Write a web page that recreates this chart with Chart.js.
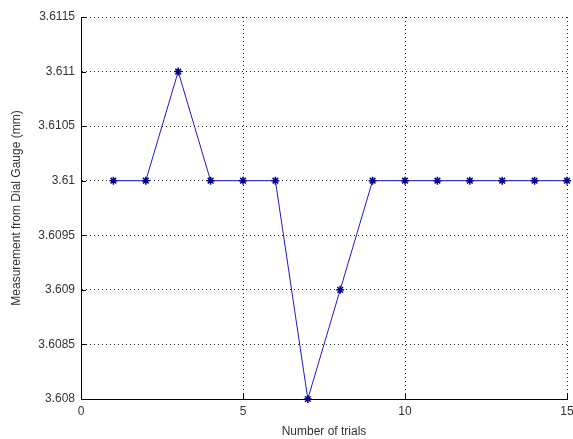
<!DOCTYPE html>
<html>
<head>
<meta charset="utf-8">
<script src="https://cdn.jsdelivr.net/npm/chart.js@4/dist/chart.umd.min.js"></script>
<style>
html,body{margin:0;padding:0;background:#fff;}
#wrap{width:573px;height:439px;position:relative;}
</style>
</head>
<body>
<div id="wrap"><canvas id="c" width="573" height="439"></canvas></div>
<script>
const trials = [1,2,3,4,5,6,7,8,9,10,11,12,13,14,15];
const measurements = [3.610,3.610,3.611,3.610,3.610,3.610,3.608,3.609,3.610,3.610,3.610,3.610,3.610,3.610,3.610];
const xTicks = [0,5,10,15];
const yTicks = [3.608,3.6085,3.609,3.6095,3.610,3.6105,3.611,3.6115];

const innerTicks = {
  id:'innerTicks',
  afterDatasetsDraw(chart){
    const ctx = chart.ctx, xs = chart.scales.x, ys = chart.scales.y, a = chart.chartArea;
    ctx.save();
    ctx.strokeStyle = '#000';
    ctx.lineWidth = 1;
    ctx.beginPath();
    xTicks.forEach(v=>{const p=Math.round(xs.getPixelForValue(v))+0.5; ctx.moveTo(p,a.bottom); ctx.lineTo(p,a.bottom-5);});
    yTicks.forEach(v=>{const p=Math.round(ys.getPixelForValue(v))+0.5; ctx.moveTo(a.left,p); ctx.lineTo(a.left+5,p);});
    ctx.stroke();
    ctx.restore();
  }
};

new Chart(document.getElementById('c'), {
  type:'line',
  data:{
    datasets:[{
      data: trials.map((t,i)=>({x:t,y:measurements[i]})),
      borderColor:'#1a1acd',
      borderWidth:1,
      backgroundColor:'#00008b',
      pointStyle:'star',
      pointRadius:4,
      pointBorderColor:'#00008b',
      pointBorderWidth:1.5,
      tension:0,
      fill:false,
      clip:false
    }]
  },
  options:{
    responsive:false,
    animation:false,
    devicePixelRatio:1,
    layout:{padding:{left:0,top:17,right:6,bottom:0}},
    plugins:{legend:{display:false},tooltip:{enabled:false}},
    scales:{
      x:{
        type:'linear', min:0, max:15,
        afterBuildTicks(s){ s.ticks = xTicks.map(v=>({value:v})); },
        afterFit(s){ s.height = 40; s.paddingLeft = 0; s.paddingRight = 0; },
        ticks:{color:'#333', font:{family:'Liberation Sans', size:12}, padding:5,
          callback:v=>String(v)},
        grid:{color:'#222', lineWidth:1, drawTicks:false},
        border:{display:true,color:'#000',width:1, dash:[1,3]},
        title:{display:true,text:'Number of trials',color:'#333',font:{family:'Liberation Sans',size:12},padding:{top:4,bottom:0}}
      },
      y:{
        type:'linear', min:3.608, max:3.6115,
        afterBuildTicks(s){ s.ticks = yTicks.map(v=>({value:v})); },
        afterFit(s){ s.width = 81; s.paddingTop = 0; s.paddingBottom = 0; },
        ticks:{color:'#333', font:{family:'Liberation Sans', size:12}, padding:6,
          callback:v=>String(parseFloat(v.toFixed(4)))},
        grid:{color:'#222', lineWidth:1, drawTicks:false},
        border:{display:true,color:'#000',width:1, dash:[1,3]},
        title:{display:true,text:'Measurement from Dial Gauge (mm)',color:'#333',font:{family:'Liberation Sans',size:12},padding:{top:9,bottom:0}}
      }
    }
  },
  plugins:[innerTicks,{
    id:'solidAxes',
    beforeDatasetsDraw(chart){
      const ctx=chart.ctx,a=chart.chartArea;
      ctx.save();ctx.strokeStyle='#000';ctx.lineWidth=1;ctx.setLineDash([]);
      ctx.beginPath();
      ctx.moveTo(Math.round(a.left)+0.5,a.top);ctx.lineTo(Math.round(a.left)+0.5,a.bottom);
      ctx.moveTo(a.left,Math.round(a.bottom)+0.5);ctx.lineTo(a.right,Math.round(a.bottom)+0.5);
      ctx.stroke();ctx.restore();
    }
  }]
});
</script>
</body>
</html>
